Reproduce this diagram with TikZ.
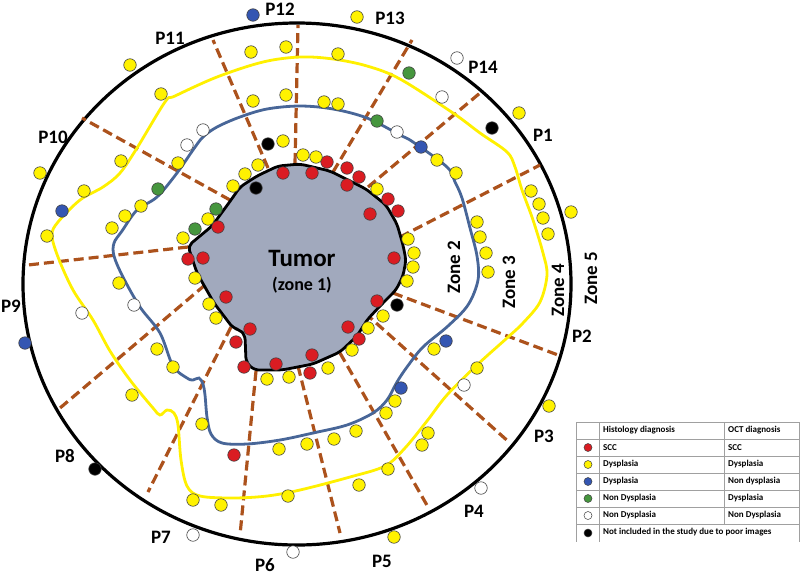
\documentclass[tikz,border=0pt]{standalone}
\usepackage{fontspec}
\setmainfont{Carlito}
\definecolor{tumorgray}{RGB}{161,169,189}
\definecolor{spoke}{RGB}{172,82,28}
\definecolor{zblue}{RGB}{72,102,152}
\definecolor{zyellow}{RGB}{255,240,0}
\definecolor{dred}{RGB}{218,28,34}
\definecolor{dyellow}{RGB}{255,242,0}
\definecolor{dblue}{RGB}{52,86,178}
\definecolor{dgreen}{RGB}{70,150,62}
\definecolor{tabline}{RGB}{160,160,160}
\begin{document}
\begin{tikzpicture}[x=1pt,y=-1pt,
  dot/.style={circle,draw=black!75,line width=0.6pt,minimum size=12.5pt,inner sep=0pt},
  ldot/.style={circle,draw=black!75,line width=0.5pt,minimum size=8pt,inner sep=0pt},
  spokeline/.style={spoke,line width=3.2pt,dash pattern=on 10pt off 5pt},
  plabel/.style={font=\fontsize{19}{19}\selectfont\bfseries,inner sep=0pt},
  zlabel/.style={font=\fontsize{19}{19}\selectfont\bfseries,rotate=90,inner sep=0pt},
  ltext/.style={font=\fontsize{9}{10}\selectfont\bfseries,anchor=west,inner sep=0pt},
  tab/.style={tabline,line width=0.9pt},
]
\useasboundingbox (0,0) rectangle (800,576);

% outer boundary
\draw[line width=3.2pt] (297,284) ellipse [x radius=274pt, y radius=261pt];

% spokes
\foreach \xa/\ya/\xb/\yb [count=\i] in {
 230/200/82/118, 268/168/213/40, 295/163/298/25,
 188/247/28/265, 333/172/412/40, 368/187/480/93,
 400/237/540/165, 393/293/558/355, 365/313/510/443,
 340/353/428/507, 298/366/340/533, 256/371/240/535,
 231/327/148/492, 205/285/60/408}{
  \coordinate (si\i) at (\xa,\ya);
  \coordinate (so\i) at (\xb,\yb);
  \draw[spokeline] (si\i) -- (so\i);
}

% zone 3/4 boundary (yellow)
\draw[zyellow,line width=2.8pt] plot[smooth cycle,tension=0.55] coordinates {
(52,235) (58,222) (80,200) (103,187) (120,173) (137,148) (165,102) (175,96)
(217,77) (263,62) (300,57) (333,59) (367,66) (400,79) (453,113)
(480,133) (507,152) (515,167) (522,190) (533,220) (543,253) (547,275) (540,302)
(523,323) (507,338) (477,365) (447,395) (427,421) (405,448) (385,466) (350,477)
(300,490) (267,496) (233,498) (200,496) (187,486) (181,460) (178,425) (174,413)
(167,410) (160,415) (153,408) (130,380) (110,351) (93,320) (73,290) (58,257)};

% zone 2/3 boundary (blue)
\draw[zblue,line width=2.8pt] plot[smooth cycle,tension=0.55] coordinates {
(114,243) (122,231) (137,210) (157,197) (177,173) (193,150) (203,137) (217,127)
(240,117) (267,109) (300,106) (333,109) (367,118) (400,135) (413,142) (447,167)
(455,182) (462,198) (470,228) (477,256) (478,280) (468,305) (448,326) (423,347)
(407,367) (397,382) (387,400) (373,413) (347,425) (313,433) (280,440) (247,444)
(222,443) (211,434) (207,417) (205,395) (203,384) (199,378) (193,380) (187,378)
(173,366) (160,333) (140,307) (123,277) (114,256)};

% tumor
\draw[fill=tumorgray,line width=2.8pt,rounded corners=5pt]
(188,246) -- (212,226) -- (231,200) -- (240,187) -- (257,176) -- (278,166)
-- (300,164) -- (330,171) -- (366,189) -- (386,205) -- (397,224) -- (403,245)
-- (406,260) -- (403,276) -- (396,290) -- (380,306) -- (367,320) -- (357,336)
-- (340,352) -- (313,364) -- (282,370) -- (254,370) -- (246,362) -- (245,335)
-- (240,330) -- (233,328) -- (214,303) -- (197,273) -- cycle;

\node[font=\fontsize{25}{25}\selectfont\bfseries] (tumor) at (302,258) {Tumor};
\node[font=\fontsize{18}{18}\selectfont\bfseries] (zone1) at (302,285) {(zone 1)};

% dots
\foreach \p [count=\i] in {(327,162),(347,168),(359,177),(347,185),(388,199),(398,211),
 (370,214),(283,173),(312,173),(218,227),(188,259),(203,258),(394,258),(377,301),
 (348,327),(359,339),(312,355),(310,373),(276,364),(244,367),(250,329),(236,342),
 (226,297),(234,455)}
 \node[dot,fill=dred] (r\i) at \p {};
\foreach \p [count=\i] in {(357,17),(130,65),(161,94),(251,52),(286,47),(338,54),
 (253,101),(286,95),(324,102),(338,104),(283,141),(40,173),(121,161),(178,163),
 (84,191),(47,236),(141,206),(125,216),(112,228),(303,155),(316,157),(377,189),
 (258,165),(245,174),(233,186),(208,219),(183,238),(119,283),(195,278),(408,239),
 (414,253),(413,267),(407,281),(383,316),(368,328),(352,350),(328,368),(289,377),
 (267,379),(209,304),(216,318),(157,349),(173,367),(132,395),(202,424),(279,449),
 (307,444),(334,439),(356,431),(386,413),(395,401),(434,349),(428,433),(422,445),
 (388,469),(359,485),(288,496),(193,500),(221,505),(394,537),(519,113),(437,160),
 (456,173),(531,191),(539,204),(543,218),(548,234),(571,212),(477,222),(480,237),
 (486,253),(488,272),(477,368),(549,406)}
 \node[dot,fill=dyellow] (y\i) at \p {};
\foreach \p [count=\i] in {(253,15),(62,211),(421,147),(446,341),(401,388),(25,343)}
 \node[dot,fill=dblue] (b\i) at \p {};
\foreach \p [count=\i] in {(377,121),(409,73),(158,189),(216,209),(195,229)}
 \node[dot,fill=dgreen] (g\i) at \p {};
\foreach \p [count=\i] in {(457,58),(442,97),(397,132),(203,130),(187,145),(134,305),
 (82,313),(464,385),(481,488),(193,535),(293,552)}
 \node[dot,fill=white] (w\i) at \p {};
\foreach \p [count=\i] in {(492,128),(268,144),(256,188),(397,305),(95,469)}
 \node[dot,fill=black] (k\i) at \p {};

% position labels
\node[plabel] (P1) at (543,135) {P1};
\node[plabel] (P2) at (582,336) {P2};
\node[plabel] (P3) at (544,436) {P3};
\node[plabel] (P4) at (474,511) {P4};
\node[plabel] (P5) at (382,561) {P5};
\node[plabel] (P6) at (265,565) {P6};
\node[plabel] (P7) at (161,537) {P7};
\node[plabel] (P8) at (65,456) {P8};
\node[plabel] (P9) at (11,306) {P9};
\node[plabel] (P10) at (53,137) {P10};
\node[plabel] (P11) at (170,38) {P11};
\node[plabel] (P12) at (280,9) {P12};
\node[plabel] (P13) at (390,18) {P13};
\node[plabel] (P14) at (483,67) {P14};

% zone labels
\node[zlabel] (z2) at (454,267) {Zone 2};
\node[zlabel] (z3) at (509,282) {Zone 3};
\node[zlabel] (z4) at (558,290) {Zone 4};
\node[zlabel] (z5) at (591,278) {Zone 5};

% legend table
\foreach \yy in {422,439,456,473,490,507,524}
  \draw[tab] (576,\yy) -- (800,\yy);
\draw[tab] (576,422) -- (576,542);
\draw[tab] (599,422) -- (599,542);
\draw[tab] (724,422) -- (724,524);
\draw[tab] (799.5,422) -- (799.5,542);

\node[ltext] (h1) at (603,430.5) {Histology diagnosis};
\node[ltext] (h2) at (728,430.5) {OCT diagnosis};
\node[ldot,fill=dred] (l1) at (588,447.5) {};
\node[ldot,fill=dyellow] (l2) at (588,464.5) {};
\node[ldot,fill=dblue] (l3) at (588,481.5) {};
\node[ldot,fill=dgreen] (l4) at (588,498.5) {};
\node[ldot,fill=white] (l5) at (588,515.5) {};
\node[ldot,fill=black] (l6) at (588,533) {};
\node[ltext] (t1a) at (603,447.5) {SCC};
\node[ltext] (t1b) at (728,447.5) {SCC};
\node[ltext] (t2a) at (603,464.5) {Dysplasia};
\node[ltext] (t2b) at (728,464.5) {Dysplasia};
\node[ltext] (t3a) at (603,481.5) {Dysplasia};
\node[ltext] (t3b) at (728,481.5) {Non dysplasia};
\node[ltext] (t4a) at (603,498.5) {Non Dysplasia};
\node[ltext] (t4b) at (728,498.5) {Dysplasia};
\node[ltext] (t5a) at (603,515.5) {Non Dysplasia};
\node[ltext] (t5b) at (728,515.5) {Non Dysplasia};
\node[ltext] (t6) at (603,532.5) {Not included in the study due to poor images};
\end{tikzpicture}
\end{document}
